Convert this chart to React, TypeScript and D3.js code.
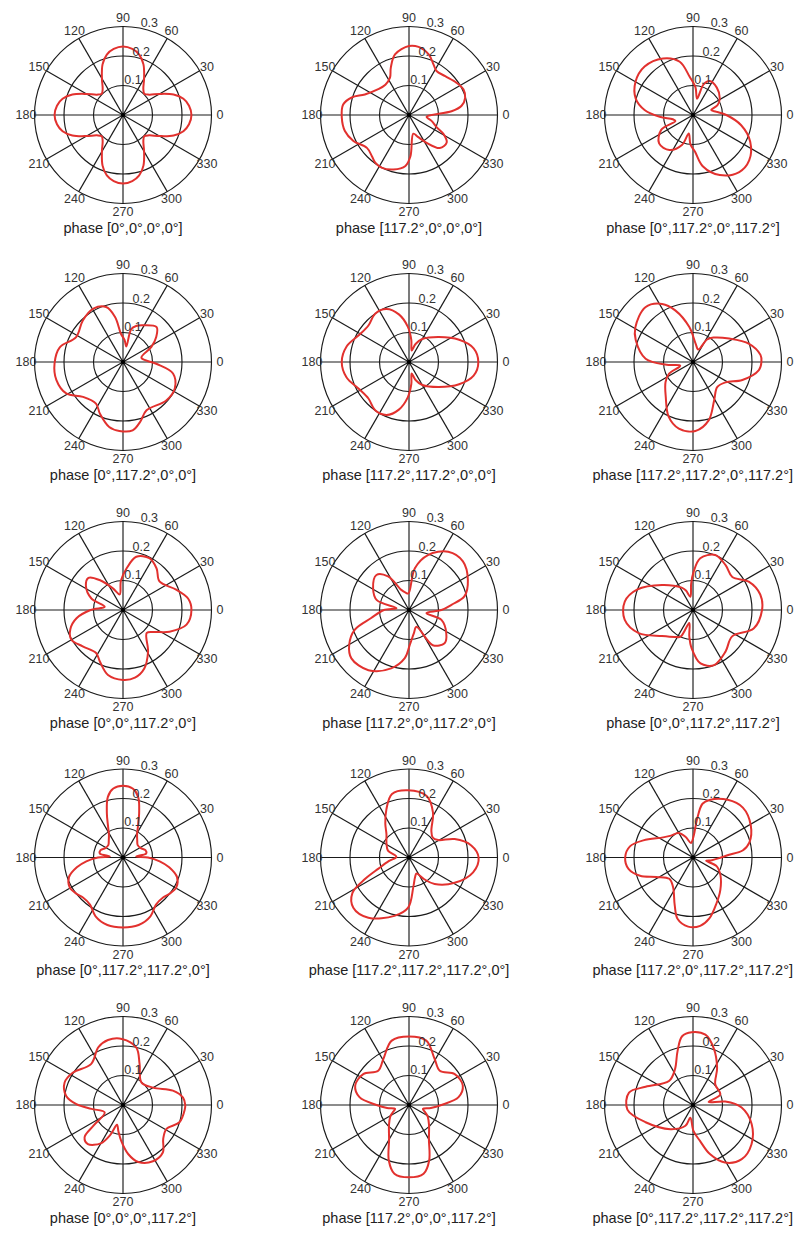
import React from "react";
import * as d3 from "d3";

type Pt = [number, number]; // [angle in degrees, gain]

const titles: string[] = [
  "phase [0°,0°,0°,0°]",
  "phase [117.2°,0°,0°,0°]",
  "phase [0°,117.2°,0°,117.2°]",
  "phase [0°,117.2°,0°,0°]",
  "phase [117.2°,117.2°,0°,0°]",
  "phase [117.2°,117.2°,0°,117.2°]",
  "phase [0°,0°,117.2°,0°]",
  "phase [117.2°,0°,117.2°,0°]",
  "phase [0°,0°,117.2°,117.2°]",
  "phase [0°,117.2°,117.2°,0°]",
  "phase [117.2°,117.2°,117.2°,0°]",
  "phase [117.2°,0°,117.2°,117.2°]",
  "phase [0°,0°,0°,117.2°]",
  "phase [117.2°,0°,0°,117.2°]",
  "phase [0°,117.2°,117.2°,117.2°]",
];

const angleTicks: number[] = [0, 30, 60, 90, 120, 150, 180, 210, 240, 270, 300, 330];
const radialTicks: number[] = [0.1, 0.2, 0.3];

const pattern1: Pt[] = [[0,.232],[8,.226],[15,.212],[22,.185],[30,.143],[38,.112],[45,.102],[52,.112],[60,.143],[68,.185],[75,.212],[82,.226],[90,.232],[98,.226],[105,.212],[112,.185],[120,.143],[128,.112],[135,.102],[142,.112],[150,.143],[158,.185],[165,.212],[172,.226],[180,.232],[188,.226],[195,.212],[202,.185],[210,.143],[218,.112],[225,.102],[232,.112],[240,.143],[248,.185],[255,.212],[262,.226],[270,.232],[278,.226],[285,.212],[292,.185],[300,.143],[308,.112],[315,.102],[322,.112],[330,.143],[338,.185],[345,.212],[352,.226]];
const pattern2: Pt[] = [[5,.145],[10,.181],[17,.199],[25,.204],[34,.195],[47,.18],[58,.176],[64,.19],[72,.216],[82,.233],[90,.234],[103,.211],[111,.172],[117,.142],[128,.13],[140,.136],[155,.165],[163,.203],[171,.226],[182,.228],[194,.224],[205,.208],[218,.181],[228,.188],[235,.198],[243,.201],[254,.192],[266,.173],[272,.14],[283,.065],[292,.08],[302,.11],[313,.153],[324,.158],[331,.134],[336,.103],[345,.08],[354,.06]];
const pattern3: Pt[] = [[0,.113],[8,.08],[15,.064],[22,.09],[32,.107],[49,.123],[64,.128],[71,.11],[76,.057],[85,.095],[95,.13],[104,.186],[118,.217],[135,.232],[150,.225],[164,.202],[174,.165],[183,.113],[192,.07],[199,.063],[205,.119],[220,.15],[236,.143],[250,.107],[257,.064],[265,.1],[273,.124],[281,.178],[294,.223],[309,.249],[321,.245],[335,.214],[348,.167]];
const pattern4: Pt[] = [[13,.064],[28,.109],[37,.141],[46,.164],[61,.142],[70,.13],[76,.115],[78,.054],[86,.075],[94,.095],[100,.155],[107,.195],[119,.207],[134,.196],[152,.18],[167,.22],[181,.232],[195,.234],[209,.22],[221,.18],[237,.168],[246,.192],[258,.225],[267,.234],[278,.234],[286,.211],[296,.182],[318,.196],[333,.197],[347,.174],[357,.113]];
const pattern5: Pt[] = [[0,.235],[12,.224],[24,.186],[40,.132],[60,.09],[70,.065],[77,.04],[84,.075],[92,.12],[102,.165],[113,.195],[125,.2],[138,.185],[152,.193],[166,.218],[180,.228],[194,.218],[208,.193],[222,.185],[235,.2],[247,.195],[258,.165],[268,.12],[276,.075],[283,.04],[290,.065],[300,.09],[320,.132],[336,.186],[348,.224]];
const pattern6: Pt[] = [[0,.232],[6,.23],[18,.2],[33,.146],[50,.108],[58,.09],[67,.046],[82,.063],[96,.119],[109,.185],[118,.223],[131,.246],[149,.228],[159,.208],[176,.161],[186,.09],[196,.045],[206,.09],[216,.115],[232,.15],[246,.203],[258,.231],[272,.234],[285,.205],[299,.148],[314,.118],[328,.13],[340,.178],[353,.225]];
const pattern7: Pt[] = [[0,.232],[10,.224],[21,.193],[38,.157],[51,.181],[63,.197],[76,.186],[85,.142],[94,.1],[102,.054],[115,.081],[128,.129],[137,.16],[147,.15],[160,.114],[170,.063],[180,.11],[190,.16],[200,.19],[210,.202],[222,.184],[238,.172],[246,.192],[257,.226],[270,.237],[280,.233],[290,.211],[301,.165],[316,.112],[325,.13],[335,.174],[347,.221]];
const pattern8: Pt[] = [[0,.11],[7,.145],[14,.194],[27,.224],[42,.246],[56,.238],[71,.197],[82,.143],[92,.056],[101,.06],[111,.073],[122,.134],[133,.162],[149,.142],[163,.114],[172,.043],[180,.085],[192,.131],[200,.196],[210,.234],[220,.255],[236,.246],[253,.207],[265,.164],[271,.12],[282,.08],[294,.062],[304,.144],[317,.165],[328,.149],[343,.115],[350,.06]];
const pattern9: Pt[] = [[0,.234],[13,.234],[27,.212],[40,.174],[54,.188],[68,.201],[82,.177],[89,.13],[94,.09],[101,.046],[110,.07],[117,.085],[141,.135],[160,.202],[173,.233],[188,.234],[203,.2],[220,.137],[236,.11],[245,.1],[254,.046],[262,.09],[268,.13],[278,.183],[291,.2],[308,.179],[326,.16],[343,.215]];
const pattern10: Pt[] = [[0,.085],[5,.045],[10,.08],[18,.08],[28,.068],[40,.065],[50,.075],[58,.09],[64,.115],[70,.16],[76,.212],[82,.236],[90,.243],[98,.236],[104,.212],[110,.16],[116,.115],[122,.09],[130,.075],[140,.065],[152,.068],[162,.08],[170,.08],[175,.045],[180,.085],[186,.125],[192,.16],[200,.195],[209,.207],[218,.2],[225,.192],[235,.195],[245,.22],[257,.235],[270,.237],[283,.235],[295,.22],[305,.195],[315,.192],[322,.2],[331,.207],[340,.195],[348,.16],[354,.125]];
const pattern11: Pt[] = [[0,.236],[11,.215],[22,.167],[31,.115],[40,.105],[50,.118],[62,.173],[74,.217],[91,.228],[105,.223],[115,.181],[125,.14],[134,.11],[148,.09],[162,.075],[177,.043],[190,.07],[200,.11],[206,.165],[212,.226],[222,.254],[236,.246],[256,.204],[269,.17],[278,.103],[287,.07],[295,.06],[305,.09],[314,.125],[331,.177],[347,.223]];
const pattern12: Pt[] = [[0,.095],[4,.12],[8,.17],[15,.198],[29,.224],[45,.239],[59,.228],[74,.203],[80,.185],[84,.13],[88,.075],[98,.05],[110,.075],[121,.097],[135,.105],[146,.122],[161,.178],[170,.217],[180,.23],[190,.222],[199,.19],[208,.14],[222,.108],[236,.121],[249,.173],[256,.215],[266,.235],[276,.233],[285,.214],[297,.175],[310,.144],[327,.111],[340,.085],[346,.046],[352,.065]];
const pattern13: Pt[] = [[0,.211],[7,.205],[16,.176],[30,.118],[51,.099],[68,.15],[77,.2],[91,.224],[103,.226],[113,.213],[128,.176],[147,.202],[159,.212],[171,.195],[179,.158],[187,.108],[202,.067],[215,.123],[220,.17],[228,.178],[240,.15],[247,.11],[253,.07],[260,.09],[267,.121],[276,.167],[285,.2],[298,.216],[310,.21],[320,.178],[331,.168],[343,.2],[356,.21]];
const pattern14: Pt[] = [[0,.11],[9,.17],[20,.194],[34,.187],[48,.156],[61,.179],[75,.226],[90,.232],[105,.226],[119,.179],[132,.156],[146,.187],[160,.194],[171,.17],[180,.11],[188,.075],[196,.049],[204,.06],[212,.075],[225,.096],[240,.135],[250,.2],[258,.238],[270,.245],[282,.238],[290,.2],[300,.135],[315,.096],[328,.075],[336,.06],[344,.049],[352,.075]];
const pattern15: Pt[] = [[6,.11],[11,.054],[21,.099],[43,.103],[57,.15],[70,.205],[80,.242],[91,.247],[99,.236],[106,.19],[117,.135],[135,.115],[159,.172],[169,.221],[184,.223],[200,.171],[227,.112],[250,.075],[258,.044],[271,.088],[281,.124],[289,.176],[299,.223],[312,.247],[326,.239],[342,.209],[357,.165]];

const patterns: Pt[][] = [pattern1, pattern2, pattern3, pattern4, pattern5, pattern6, pattern7, pattern8, pattern9, pattern10, pattern11, pattern12, pattern13, pattern14, pattern15];

const W = 795;
const H = 1234;
const colX = [123, 409, 693];
const rowY = [115, 362, 610, 857.5, 1105];
const R = 88.5;
const FONT = "'Liberation Sans', Arial, Helvetica, sans-serif";
const TITLE_SIZE = 14.5;

const rScale = d3.scaleLinear().domain([0, 0.3]).range([0, R]);
const toRad = (deg: number) => (deg * Math.PI) / 180;

const line = d3
  .lineRadial<Pt>()
  .angle((d) => toRad(90 - d[0]))
  .radius((d) => rScale(d[1]))
  .curve(d3.curveCatmullRomClosed.alpha(0.5));

let measureCtx: CanvasRenderingContext2D | null = null;
function textWidth(s: string, size: number): number {
  if (typeof document === "undefined") return s.length * size * 0.5;
  if (!measureCtx) measureCtx = document.createElement("canvas").getContext("2d");
  if (!measureCtx) return s.length * size * 0.5;
  measureCtx.font = `${size}px 'Liberation Sans', Arial, sans-serif`;
  return measureCtx.measureText(s).width;
}

function PolarPlot({ cx, cy, data, title }: { cx: number; cy: number; data: Pt[]; title: string }) {
  const sorted = [...data].sort((a, b) => a[0] - b[0]);
  const tw = textWidth(title, TITLE_SIZE);
  const overflow = cx + tw / 2 - (W - 2);
  const titleX = overflow > 0 ? -overflow : 0;
  return (
    <g transform={`translate(${cx},${cy})`}>
      {radialTicks.map((t) => (
        <circle key={t} r={rScale(t)} fill="none" stroke="#1a1a1a" strokeWidth={1.15} />
      ))}
      {angleTicks.slice(0, 6).map((a) => {
        const x = Math.cos(toRad(a)) * R;
        const y = -Math.sin(toRad(a)) * R;
        return <line key={a} x1={-x} y1={-y} x2={x} y2={y} stroke="#1a1a1a" strokeWidth={1.15} />;
      })}
      <path d={line(sorted) || ""} fill="none" stroke="#e2312e" strokeWidth={2} />
      <circle r={2.2} fill="#000" />
      {angleTicks.map((a) => {
        const rr = R + 8.5;
        return (
          <text
            key={"a" + a}
            x={Math.cos(toRad(a)) * rr}
            y={-Math.sin(toRad(a)) * rr}
            textAnchor="middle"
            dominantBaseline="central"
            fontSize={12.5}
            fontFamily={FONT}
            fill="#333"
          >
            {a}
          </text>
        );
      })}
      {radialTicks.map((t) => {
        const rr = rScale(t) + 7;
        return (
          <text
            key={"r" + t}
            x={Math.cos(toRad(74)) * rr}
            y={-Math.sin(toRad(74)) * rr}
            textAnchor="middle"
            dominantBaseline="central"
            fontSize={12.5}
            fontFamily={FONT}
            fill="#333"
          >
            {t.toFixed(1)}
          </text>
        );
      })}
      <text x={titleX} y={117.5} textAnchor="middle" fontSize={TITLE_SIZE} fontFamily={FONT} fill="#222">
        {title}
      </text>
    </g>
  );
}

export default function App() {
  return (
    <svg
      width={W}
      height={H}
      viewBox={`0 0 ${W} ${H}`}
      style={{ position: "absolute", left: 0, top: 0, background: "#fff" }}
    >
      <rect width={W} height={H} fill="#fff" />
      {patterns.map((p, i) => (
        <PolarPlot
          key={i}
          cx={colX[i % 3]}
          cy={rowY[Math.floor(i / 3)]}
          data={p}
          title={titles[i]}
        />
      ))}
    </svg>
  );
}
